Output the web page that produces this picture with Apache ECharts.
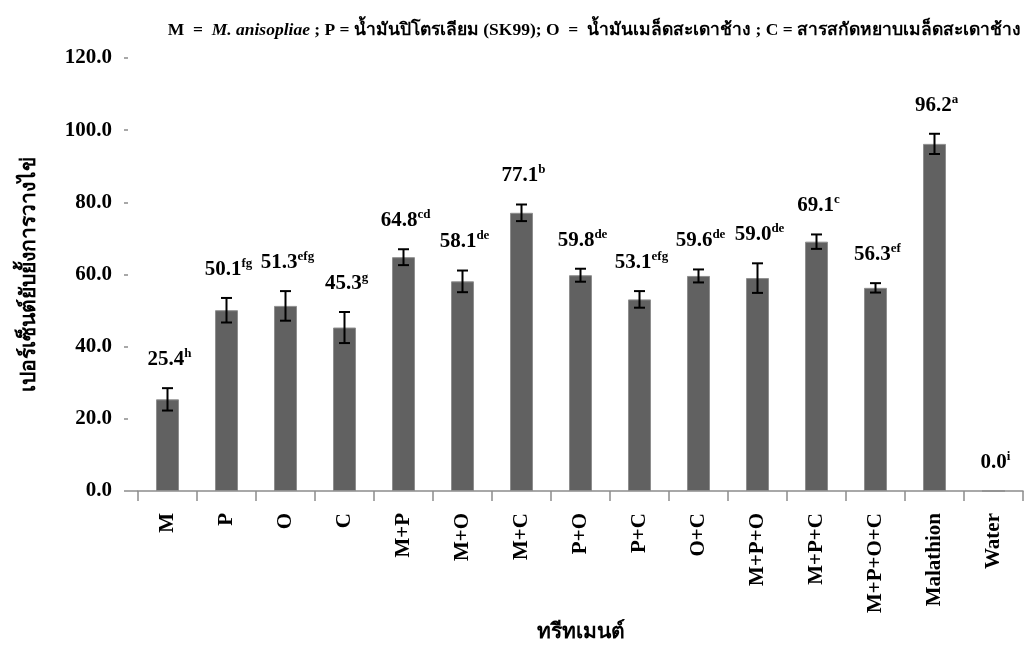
<!DOCTYPE html>
<html>
<head>
<meta charset="utf-8">
<script src="https://cdn.jsdelivr.net/npm/echarts@6/dist/echarts.min.js"></script>
<style>html,body{margin:0;padding:0;background:#fff}#c{width:1030px;height:648px}</style>
</head>
<body>
<div id="c"></div>
<script>
const categories = ['M','P','O','C','M+P','M+O','M+C','P+O','P+C','O+C','M+P+O','M+P+C','M+P+O+C','Malathion','Water'];
const means = [25.4, 50.1, 51.3, 45.3, 64.8, 58.1, 77.1, 59.8, 53.1, 59.6, 59.0, 69.1, 56.3, 96.2, 0.0];
const errors = [3.1, 3.4, 4.1, 4.3, 2.2, 3.0, 2.3, 1.8, 2.3, 1.8, 4.1, 2.0, 1.3, 2.8, 0.0];
const letters = ['h','fg','efg','g','cd','de','b','de','efg','de','de','c','ef','a','i'];
const yTicks = [0, 20, 40, 60, 80, 100, 120];

const FONT = '"Liberation Serif", "Times New Roman", serif';

const errData = categories.map((c, i) => [i, means[i], errors[i], letters[i]]);

const chart = echarts.init(document.getElementById('c'), null, {renderer: 'canvas'});
const option = {
  backgroundColor: '#fff',
  animation: false,
  title: {
    text: '{b|M  =  }{i|M. anisopliae}{b| ; P = น้ำมันปิโตรเลียม (SK99); O  =  น้ำมันเมล็ดสะเดาช้าง ; C = สารสกัดหยาบเมล็ดสะเดาช้าง}',
    right: 4,
    top: 16,
    textStyle: {
      rich: {
        b: {fontFamily: FONT, fontWeight: 'bold', fontSize: 17.5, color: '#000'},
        i: {fontFamily: FONT, fontWeight: 'bold', fontStyle: 'italic', fontSize: 17.5, color: '#000'}
      }
    }
  },
  grid: {left: 138, right: 7, top: 58, bottom: 156, containLabel: false},
  xAxis: {
    type: 'category',
    data: categories,
    name: 'ทรีทเมนต์',
    nameLocation: 'middle',
    nameGap: 131,
    nameTextStyle: {fontFamily: FONT, fontWeight: 'bold', fontSize: 21, color: '#000', verticalAlign: 'top'},
    axisLine: {lineStyle: {color: '#8c8c8c', width: 1.5}},
    axisTick: {show: true, length: 10, lineStyle: {color: '#8c8c8c', width: 1.5}},
    axisLabel: {rotate: 90, margin: 22, interval: 0, fontFamily: FONT, fontWeight: 'bold', fontSize: 21, color: '#000'}
  },
  yAxis: {
    type: 'value',
    min: yTicks[0],
    max: yTicks[yTicks.length - 1],
    interval: yTicks[1] - yTicks[0],
    offset: 10,
    name: 'เปอร์เซ็นต์ยับยั้งการวางไข่',
    nameLocation: 'middle',
    nameRotate: 90,
    nameGap: 88,
    nameTextStyle: {fontFamily: FONT, fontWeight: 'bold', fontSize: 21, color: '#000'},
    axisLine: {show: false},
    axisTick: {show: true, length: 4, lineStyle: {color: '#8c8c8c', width: 1.5}},
    splitLine: {show: false},
    axisLabel: {margin: 16, formatter: v => v.toFixed(1), fontFamily: FONT, fontWeight: 'bold', fontSize: 21, color: '#000'}
  },
  series: [
    {
      type: 'bar',
      data: means,
      barWidth: 23,
      itemStyle: {color: '#616161', borderColor: '#8e8e8e', borderWidth: 1}
    },
    {
      type: 'custom',
      data: errData,
      z: 10,
      renderItem: function (params, api) {
        const x = api.value(0);
        const m = api.value(1);
        const e = api.value(2);
        const letter = letters[x];
        const top = api.coord([x, m + e]);
        const bot = api.coord([x, m - e]);
        const half = 5.5;
        const children = [];
        if (e > 0) {
          const st = {stroke: '#000', lineWidth: 2};
          children.push({type: 'line', shape: {x1: top[0], y1: top[1], x2: bot[0], y2: bot[1]}, style: st});
          children.push({type: 'line', shape: {x1: top[0] - half, y1: top[1], x2: top[0] + half, y2: top[1]}, style: st});
          children.push({type: 'line', shape: {x1: bot[0] - half, y1: bot[1], x2: bot[0] + half, y2: bot[1]}, style: st});
        }
        children.push({
          type: 'text',
          style: {
            text: '{v|' + m.toFixed(1) + '}{s|' + letter + '}',
            x: top[0] + 2,
            y: top[1] - 18,
            align: 'center',
            verticalAlign: 'bottom',
            rich: {
              v: {fontFamily: FONT, fontWeight: 'bold', fontSize: 21, fill: '#000', verticalAlign: 'bottom', lineHeight: 23},
              s: {fontFamily: FONT, fontWeight: 'bold', fontSize: 13, fill: '#000', verticalAlign: 'top', lineHeight: 23}
            }
          }
        });
        return {type: 'group', children: children};
      }
    }
  ]
};
chart.setOption(option);

// extend the category axis line to the left, where the value-axis ticks sit
const y0 = chart.convertToPixel({yAxisIndex: 0}, 0);
const gridRect = chart.getModel().getComponent('grid').coordinateSystem.getRect();
chart.setOption({
  graphic: [{
    type: 'line',
    shape: {x1: gridRect.x - 10, y1: y0, x2: gridRect.x, y2: y0},
    style: {stroke: '#8c8c8c', lineWidth: 1.5},
    silent: true
  }]
});
</script>
</body>
</html>
